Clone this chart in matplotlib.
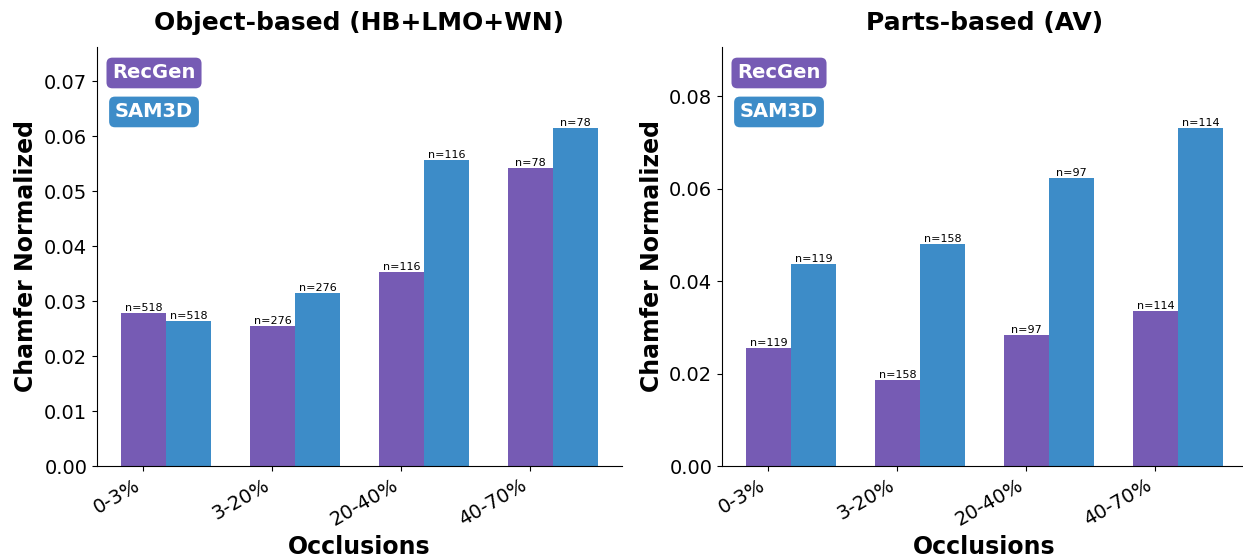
import matplotlib
matplotlib.use("Agg")
import matplotlib.pyplot as plt
import numpy as np

categories = ["0-3%", "3-20%", "20-40%", "40-70%"]
obj_recgen = [0.0279, 0.0255, 0.0353, 0.0542]
obj_sam3d = [0.0264, 0.0315, 0.0557, 0.0615]
obj_n = [518, 276, 116, 78]
parts_recgen = [0.0256, 0.0185, 0.0284, 0.0336]
parts_sam3d = [0.0437, 0.0481, 0.0623, 0.0731]
parts_n = [119, 158, 97, 114]

PURPLE = "#765BB4"
BLUE = "#3D8CC8"

fig = plt.figure(figsize=(12.43, 5.6), dpi=100)
axL = fig.add_axes([97/1243, 94/560, 525/1243, 419/560])
axR = fig.add_axes([722/1243, 94/560, 525/1243, 419/560])

def panel(ax, rec, sam, ns, title, yticks):
    x = np.arange(len(categories))
    w = 0.35
    b1 = ax.bar(x, rec, w, color=PURPLE)
    b2 = ax.bar(x + w, sam, w, color=BLUE)
    for bars in (b1, b2):
        for bar, n in zip(bars, ns):
            ax.text(bar.get_x() + bar.get_width() / 2, bar.get_height(),
                    f"n={n}", ha="center", va="bottom", fontsize=8)
    ax.set_ylim(0, max(max(rec), max(sam)) * 1.24)
    ax.set_yticks(yticks)
    ax.set_xticks(x)
    ax.set_xticklabels(categories, rotation=30, ha="right", fontsize=14)
    ax.tick_params(axis="y", labelsize=14)
    ax.set_title(title, fontsize=18, fontweight="bold", pad=12)
    ax.set_xlabel("Occlusions", fontsize=17, fontweight="bold")
    ax.set_ylabel("Chamfer Normalized", fontsize=17, fontweight="bold", labelpad=4)
    ax.spines["top"].set_visible(False)
    ax.spines["right"].set_visible(False)
    ax.text(0.1086, 0.938, "RecGen", transform=ax.transAxes, ha="center", va="center",
            color="white", fontsize=14, fontweight="bold",
            bbox=dict(boxstyle="round,pad=0.3", fc=PURPLE, ec="none"))
    ax.text(0.1086, 0.845, "SAM3D", transform=ax.transAxes, ha="center", va="center",
            color="white", fontsize=14, fontweight="bold",
            bbox=dict(boxstyle="round,pad=0.3", fc=BLUE, ec="none"))

panel(axL, obj_recgen, obj_sam3d, obj_n, "Object-based (HB+LMO+WN)",
      [0, 0.01, 0.02, 0.03, 0.04, 0.05, 0.06, 0.07])
panel(axR, parts_recgen, parts_sam3d, parts_n, "Parts-based (AV)",
      [0, 0.02, 0.04, 0.06, 0.08])
axL.yaxis.set_major_formatter(matplotlib.ticker.FormatStrFormatter("%.2f"))
axR.yaxis.set_major_formatter(matplotlib.ticker.FormatStrFormatter("%.2f"))

fig.savefig("out.png", dpi=100)
